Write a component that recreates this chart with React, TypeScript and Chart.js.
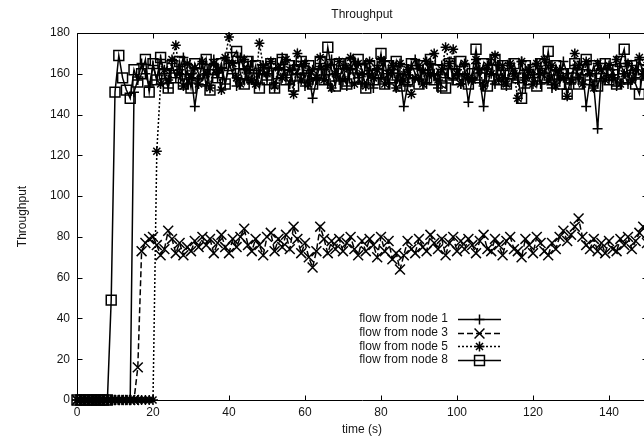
import React, { useEffect, useRef } from 'react';
import { Chart, registerables } from 'chart.js';

Chart.register(...registerables);

const chartTitle = 'Throughput';
const yAxisTitle = 'Throughput';
const xAxisTitle = 'time (s)';

const seriesLabels = ['flow from node 1', 'flow from node 3', 'flow from node 5', 'flow from node 8'];

const xTickValues = [0, 20, 40, 60, 80, 100, 120, 140];
const yTickValues = [0, 20, 40, 60, 80, 100, 120, 140, 160, 180];

const timeSeconds = [
  0, 1, 2, 3, 4, 5, 6, 7, 8, 9,
  10, 11, 12, 13, 14, 15, 16, 17, 18, 19,
  20, 21, 22, 23, 24, 25, 26, 27, 28, 29,
  30, 31, 32, 33, 34, 35, 36, 37, 38, 39,
  40, 41, 42, 43, 44, 45, 46, 47, 48, 49,
  50, 51, 52, 53, 54, 55, 56, 57, 58, 59,
  60, 61, 62, 63, 64, 65, 66, 67, 68, 69,
  70, 71, 72, 73, 74, 75, 76, 77, 78, 79,
  80, 81, 82, 83, 84, 85, 86, 87, 88, 89,
  90, 91, 92, 93, 94, 95, 96, 97, 98, 99,
  100, 101, 102, 103, 104, 105, 106, 107, 108, 109,
  110, 111, 112, 113, 114, 115, 116, 117, 118, 119,
  120, 121, 122, 123, 124, 125, 126, 127, 128, 129,
  130, 131, 132, 133, 134, 135, 136, 137, 138, 139,
  140, 141, 142, 143, 144, 145, 146, 147, 148, 149,
  150,
];

const flowNode1 = [
  0, 0, 0, 0, 0, 0, 0, 0, 0, 0,
  0, 0, 0, 0, 0, 151, 157, 165, 160, 154,
  164, 157, 167, 160, 153, 165, 158, 162, 168, 155,
  160, 144, 157, 165, 154, 162, 167, 158, 163, 155,
  165, 160, 154, 168, 162, 157, 166, 155, 160, 163,
  157, 165, 153, 162, 168, 158, 155, 164, 160, 166,
  154, 160, 148, 157, 165, 162, 155, 167, 160, 157,
  164, 154, 162, 166, 158, 155, 165, 160, 153, 164,
  158, 166, 155, 162, 157, 160, 144, 154, 164, 167,
  157, 162, 155, 165, 160, 153, 164, 158, 166, 157,
  162, 155, 160, 146, 158, 165, 157, 144, 162, 167,
  155, 164, 158, 154, 165, 160, 157, 166, 153, 162,
  158, 165, 155, 160, 164, 153, 162, 157, 166, 160,
  155, 164, 158, 162, 144, 157, 154, 133, 160, 165,
  157, 162, 154, 165, 160, 155, 164, 158, 167, 160,
  157,
];

const flowNode3 = [
  0, 0, 0, 0, 0, 0, 0, 0, 0, 0,
  0, 0, 0, 0, 0, 0, 16, 73, 77, 79,
  80, 76, 71, 74, 83, 79, 72, 77, 71, 75,
  73, 78, 75, 80, 76, 79, 72, 77, 81, 75,
  72, 79, 75, 80, 84, 76, 73, 79, 76, 71,
  80, 82, 73, 79, 75, 81, 74, 85, 79, 72,
  77, 70, 65, 73, 85, 79, 72, 78, 74, 79,
  73, 77, 80, 74, 71, 78, 73, 79, 76, 70,
  80, 73, 78, 69, 72, 64, 71, 78, 74, 72,
  79, 75, 73, 81, 77, 74, 79, 71, 77, 80,
  73, 78, 74, 79, 76, 72, 78, 81, 74, 73,
  79, 76, 71, 78, 80, 74, 73, 70, 79, 76,
  72, 80, 77, 73, 71, 77, 74, 80, 83, 78,
  81, 85, 89, 80, 76, 74, 79, 73, 77, 72,
  78, 74, 73, 79, 76, 80, 74, 78, 82, 85,
  77,
];

const flowNode5 = [
  0, 0, 0, 0, 0, 0, 0, 0, 0, 0,
  0, 0, 0, 0, 0, 0, 0, 0, 0, 0,
  0, 122, 155, 162, 157, 167, 174, 160, 154, 165,
  158, 163, 155, 166, 160, 153, 165, 162, 152, 168,
  178, 165, 158, 155, 167, 162, 157, 155, 175, 164,
  160, 166, 154, 163, 158, 167, 162, 150, 170, 157,
  165, 155, 162, 158, 168, 157, 164, 153, 160, 166,
  157, 163, 168, 155, 165, 160, 154, 166, 158, 162,
  167, 155, 160, 164, 153, 165, 157, 162, 150, 158,
  164, 155, 166, 160, 170, 157, 162, 173, 165, 172,
  160, 155, 165, 158, 157, 167, 162, 154, 164, 160,
  169, 157, 164, 155, 165, 160, 148, 166, 158, 162,
  155, 165, 160, 167, 157, 164, 154, 162, 158, 149,
  157, 170, 164, 155, 166, 160, 153, 165, 162, 157,
  164, 158, 167, 155, 160, 165, 157, 162, 168, 160,
  164,
];

const flowNode8 = [
  0, 0, 0, 0, 0, 0, 0, 0, 0, 49,
  151, 169, 158, 152, 148, 162, 156, 160, 167, 151,
  165, 157, 168, 160, 153, 164, 158, 166, 155, 162,
  153, 165, 160, 157, 167, 152, 162, 158, 165, 155,
  164, 168, 171, 160, 155, 166, 158, 164, 153, 162,
  157, 165, 153, 160, 167, 157, 164, 154, 162, 166,
  158, 164, 155, 160, 166, 157, 173, 162, 154, 165,
  160, 155, 165, 158, 167, 162, 153, 164, 157, 160,
  170, 155, 164, 158, 166, 154, 162, 157, 165, 160,
  155, 164, 158, 167, 157, 162, 154, 153, 165, 160,
  157, 166, 162, 155, 160, 172, 158, 165, 154, 162,
  167, 157, 164, 155, 160, 165, 158, 148, 164, 157,
  162, 154, 165, 158, 171, 157, 164, 155, 160, 150,
  158, 165, 155, 162, 167, 157, 164, 154, 160, 165,
  157, 162, 155, 166, 172, 158, 164, 155, 150, 162,
  160,
];

const seriesValues = [flowNode1, flowNode3, flowNode5, flowNode8];
const seriesPointStyles = ['cross', 'crossRot', 'star', 'rect'];
const seriesPointRadius = [5, 7, 5, 7];
const seriesDashes: number[][] = [[], [6, 3], [2, 2], []];

const FONT = '"Liberation Sans", Arial, Helvetica, sans-serif';
const INK = '#000';
const TEXT = '#151515';
const LINE_W = 1.5;

function drawMarker(ctx: CanvasRenderingContext2D, style: string, x: number, y: number, r: number) {
  ctx.beginPath();
  if (style === 'cross') {
    ctx.moveTo(x - r, y); ctx.lineTo(x + r, y);
    ctx.moveTo(x, y - r); ctx.lineTo(x, y + r);
  } else if (style === 'crossRot') {
    const d = r * Math.SQRT1_2;
    ctx.moveTo(x - d, y - d); ctx.lineTo(x + d, y + d);
    ctx.moveTo(x - d, y + d); ctx.lineTo(x + d, y - d);
  } else if (style === 'star') {
    const d = r * Math.SQRT1_2;
    ctx.moveTo(x - r, y); ctx.lineTo(x + r, y);
    ctx.moveTo(x, y - r); ctx.lineTo(x, y + r);
    ctx.moveTo(x - d, y - d); ctx.lineTo(x + d, y + d);
    ctx.moveTo(x - d, y + d); ctx.lineTo(x + d, y - d);
  } else {
    const s = r * Math.SQRT1_2;
    ctx.rect(x - s, y - s, 2 * s, 2 * s);
  }
  ctx.stroke();
}

const gnuplotFrame = {
  id: 'gnuplotFrame',
  beforeDatasetsDraw(chart: any) {
    const { ctx, chartArea: a, scales } = chart;
    const xs = scales.x;
    const ys = scales.y;
    ctx.save();
    ctx.strokeStyle = INK;
    ctx.lineWidth = 1;
    ctx.setLineDash([]);
    ctx.beginPath();
    const L = Math.round(a.left) + 0.5;
    const R = Math.round(a.right) + 0.5;
    const T = Math.round(a.top) + 0.5;
    const B = Math.round(a.bottom) + 0.5;
    ctx.rect(L, T, R - L, B - T);
    for (const v of xTickValues) {
      const px = Math.round(xs.getPixelForValue(v)) + 0.5;
      ctx.moveTo(px, B); ctx.lineTo(px, B - 5);
      ctx.moveTo(px, T); ctx.lineTo(px, T + 5);
    }
    for (const v of yTickValues) {
      const py = Math.round(ys.getPixelForValue(v)) + 0.5;
      ctx.moveTo(L, py); ctx.lineTo(L + 5, py);
      ctx.moveTo(R, py); ctx.lineTo(R - 5, py);
    }
    ctx.stroke();
    ctx.restore();
  },
  afterDraw(chart: any) {
    const { ctx, chartArea: a } = chart;
    const cx = (a.left + a.right) / 2;
    ctx.save();
    ctx.fillStyle = TEXT;
    ctx.font = `12px ${FONT}`;
    ctx.textAlign = 'center';
    ctx.textBaseline = 'middle';
    ctx.fillText(chartTitle, cx, 15);
    ctx.fillText(xAxisTitle, cx, 430);
    ctx.save();
    ctx.translate(23, (a.top + a.bottom) / 2);
    ctx.rotate(-Math.PI / 2);
    ctx.fillText(yAxisTitle, 0, 0);
    ctx.restore();

    // key
    for (let i = 0; i < seriesLabels.length; i++) {
      const y = 319 + i * 13.6;
      ctx.fillStyle = TEXT;
      ctx.textAlign = 'right';
      ctx.fillText(seriesLabels[i], 448, y);
      const yy = Math.round(y) + 0.5;
      ctx.strokeStyle = INK;
      ctx.lineWidth = LINE_W;
      ctx.setLineDash(seriesDashes[i]);
      ctx.beginPath();
      ctx.moveTo(458, yy);
      ctx.lineTo(501, yy);
      ctx.stroke();
      ctx.setLineDash([]);
      drawMarker(ctx, seriesPointStyles[i], 479.5, yy, seriesPointRadius[i]);
    }
    ctx.restore();
  },
};

export default function App() {
  const canvasRef = useRef<HTMLCanvasElement | null>(null);

  useEffect(() => {
    const canvas = canvasRef.current;
    if (!canvas) return;
    const datasets = seriesLabels.map((label, i) => ({
      label,
      data: timeSeconds.map((t, k) => ({ x: t, y: seriesValues[i][k] })),
      borderColor: INK,
      borderWidth: LINE_W,
      borderDash: seriesDashes[i],
      backgroundColor: 'rgba(0,0,0,0)',
      fill: false,
      tension: 0,
      pointStyle: seriesPointStyles[i],
      pointRadius: seriesPointRadius[i],
      pointBorderColor: INK,
      pointBackgroundColor: 'rgba(0,0,0,0)',
      pointBorderWidth: LINE_W,
      clip: false,
      order: seriesLabels.length - 1 - i,
    }));

    const chart = new Chart(canvas, {
      type: 'line',
      data: { datasets },
      options: {
        responsive: false,
        animation: false,
        devicePixelRatio: 1,
        events: [],
        layout: { padding: { top: 33, right: 13, bottom: 0, left: 0 } },
        plugins: {
          legend: { display: false },
          title: { display: false },
          tooltip: { enabled: false },
        },
        scales: {
          x: {
            type: 'linear',
            min: 0,
            max: 150,
            grid: { display: false, drawTicks: false },
            border: { display: false },
            ticks: {
              stepSize: 20,
              padding: 5,
              color: TEXT,
              font: { family: FONT, size: 12 },
              maxRotation: 0,
              autoSkip: false,
            },
            afterBuildTicks: (scale: any) => {
              scale.ticks = scale.ticks.filter((t: any) => xTickValues.includes(t.value));
            },
            afterFit: (scale: any) => {
              scale.height = 41;
            },
          },
          y: {
            type: 'linear',
            min: 0,
            max: 180,
            grid: { display: false, drawTicks: false },
            border: { display: false },
            ticks: {
              stepSize: 20,
              padding: 7,
              color: TEXT,
              font: { family: FONT, size: 12 },
              autoSkip: false,
            },
            afterFit: (scale: any) => {
              scale.width = 77;
            },
          },
        },
      } as any,
      plugins: [gnuplotFrame],
    });
    return () => chart.destroy();
  }, []);

  return (
    <div
      style={{
        position: 'fixed',
        left: 0,
        top: 0,
        width: 644,
        height: 441,
        overflow: 'hidden',
        background: '#fff',
      }}
    >
      <canvas ref={canvasRef} width={660} height={441} style={{ display: 'block', width: 660, height: 441 }} />
    </div>
  );
}
